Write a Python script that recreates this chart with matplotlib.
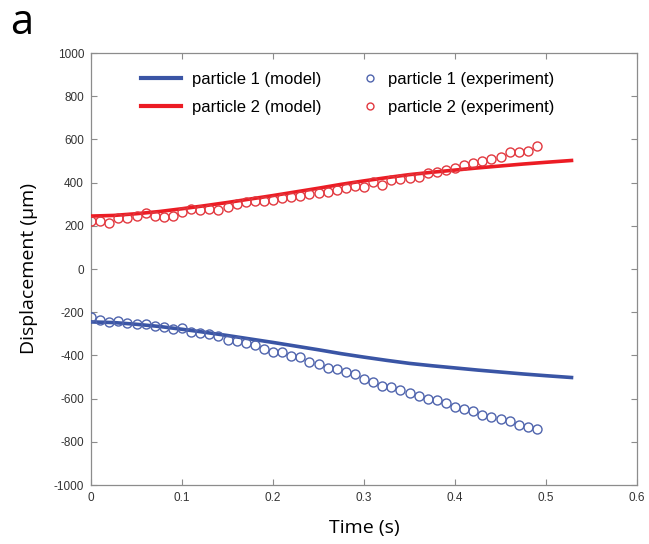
import matplotlib
matplotlib.use("Agg")
import matplotlib.pyplot as plt
import numpy as np
from matplotlib.lines import Line2D

plt.rcParams["axes.unicode_minus"] = False

# Experiment time points (s)
t_exp = [round(0.01 * i, 2) for i in range(50)]

p1_exp = [-224, -236, -244, -241, -251, -256, -254, -262, -270, -278,
          -275, -290, -295, -302, -310, -329, -333, -344, -352, -372,
          -386, -383, -403, -406, -431, -440, -457, -464, -475, -484,
          -511, -525, -540, -545, -559, -573, -587, -600, -606, -619,
          -640, -647, -657, -675, -687, -693, -705, -721, -730, -741]

p2_exp = [222, 220, 214, 235, 235, 247, 258, 247, 241, 247,
          265, 278, 273, 278, 273, 287, 302, 310, 313, 313,
          321, 327, 332, 339, 346, 352, 355, 366, 374, 382,
          381, 401, 389, 412, 415, 420, 427, 443, 451, 460,
          466, 481, 489, 501, 508, 520, 542, 542, 548, 569]

# Model curves
t_model = [0.0, 0.025, 0.05, 0.075, 0.1, 0.125, 0.15, 0.175, 0.2, 0.225, 0.25,
           0.275, 0.3, 0.325, 0.35, 0.375, 0.4, 0.425, 0.45, 0.475, 0.5, 0.53]
p1_model = [-245, -248, -256, -266, -279, -293, -308, -324, -340, -357, -374,
            -392, -408, -423, -437, -448, -458, -468, -477, -486, -494, -503]
p2_model = [245, 248, 256, 266, 279, 293, 308, 324, 340, 357, 374,
            392, 408, 423, 437, 448, 458, 468, 477, 486, 494, 503]

blue = "#3a55a5"
red = "#ec1c24"
blue_c = "#4f64ad"
red_c = "#e2383f"

W, H = 649, 544
fig = plt.figure(figsize=(W / 100, H / 100), dpi=100)
ax = fig.add_axes([91 / W, 1 - 485 / H, (637 - 91) / W, (485 - 53) / H])

ax.plot(t_model, p1_model, color=blue, lw=2.6, solid_capstyle="butt", zorder=3)
ax.plot(t_model, p2_model, color=red, lw=2.6, solid_capstyle="butt", zorder=3)
ax.plot(t_exp, p1_exp, ls="none", marker="o", ms=6.5, mfc="none",
        mec=blue_c, mew=1.0, zorder=4)
ax.plot(t_exp, p2_exp, ls="none", marker="o", ms=6.5, mfc="none",
        mec=red_c, mew=1.0, zorder=4)

ax.set_xlim(0, 0.6)
ax.set_ylim(-1000, 1000)
ax.set_xticks([0, 0.1, 0.2, 0.3, 0.4, 0.5, 0.6])
ax.set_xticklabels(["0", "0.1", "0.2", "0.3", "0.4", "0.5", "0.6"])
ax.set_yticks(np.arange(-1000, 1001, 200))

for sp in ax.spines.values():
    sp.set_color("#8c8c8c")
    sp.set_linewidth(0.9)

ax.tick_params(direction="in", length=4, width=0.8, color="#8c8c8c",
               top=True, right=True, labelsize=8.5, labelcolor="#333333",
               labelfontfamily="Liberation Sans", pad=5)

ax.set_xlabel("Time (s)", fontsize=14, family="Open Sans", labelpad=11)
ax.set_ylabel("Displacement (µm)", fontsize=14, family="Open Sans", labelpad=11)

h1 = Line2D([], [], color=blue, lw=3)
h2 = Line2D([], [], color=red, lw=3)
h3 = Line2D([], [], ls="none", marker="o", ms=5, mfc="none", mec=blue_c, mew=1.0)
h4 = Line2D([], [], ls="none", marker="o", ms=5, mfc="none", mec=red_c, mew=1.0)

prop = {"family": "Liberation Sans", "size": 12}
leg1 = ax.legend([h1, h2], ["particle 1 (model)", "particle 2 (model)"],
                 frameon=False, loc="upper left",
                 bbox_to_anchor=(141 / W, 1 - 72 / H), bbox_transform=fig.transFigure,
                 borderaxespad=0, borderpad=0, prop=prop,
                 handlelength=2.4, handletextpad=0.65, labelspacing=0.77)
ax.add_artist(leg1)
leg2 = ax.legend([h3, h4], ["particle 1 (experiment)", "particle 2 (experiment)"],
                 frameon=False, loc="upper left",
                 bbox_to_anchor=(362 / W, 1 - 72 / H), bbox_transform=fig.transFigure,
                 borderaxespad=0, borderpad=0, prop=prop,
                 handlelength=1.0, handletextpad=0.55, labelspacing=0.77)

fig.text(10 / W, 1 - 23 / H, "a", fontsize=30, family="Open Sans",
         va="center", ha="left")

fig.savefig("out.png", dpi=100)
